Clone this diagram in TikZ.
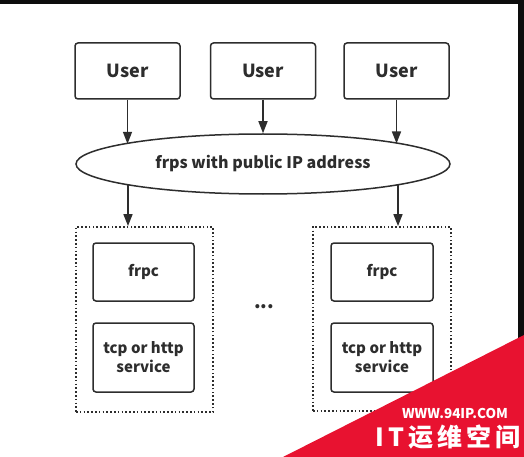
\documentclass[tikz,border=0pt]{standalone}
\usepackage{fontspec}
\setmainfont{Noto Sans CJK SC}
\newfontfamily\cjk{Noto Sans CJK SC}
\usetikzlibrary{shapes.geometric,arrows.meta,calc}
\definecolor{ink}{RGB}{45,45,45}
\definecolor{wmred}{RGB}{232,18,48}
\begin{document}
\begin{tikzpicture}[x=1pt,y=-1pt,
  box/.style={draw=ink, line width=1.5pt, rounded corners=3pt, inner sep=0pt, text=ink, align=center,
    font=\bfseries\fontsize{15}{19}\selectfont},
  userbox/.style={box, minimum width=105pt, minimum height=56pt, font=\bfseries\fontsize{18}{20}\selectfont},
  group/.style={draw=ink, line width=1.8pt, dash pattern=on 1.6pt off 2.2pt, inner sep=0pt},
  arr/.style={draw=ink, line width=1.5pt, -{Triangle[length=12pt,width=9pt]}}]
\useasboundingbox (0,0) rectangle (524,457);
\fill[white] (0,0) rectangle (524,457);
\fill[black!95] (0,0) rectangle (524,4);
\fill[black!95] (518,0) rectangle (524,457);
% users
\node[userbox] (u1) at (127.5,71) {User};
\node[userbox] (u2) at (263,71) {User};
\node[userbox] (u3) at (396.5,71) {User};
% server
\node[ellipse, draw=ink, line width=1.5pt, minimum width=374pt, minimum height=60pt, inner sep=0pt, text=ink,
  font=\bfseries\fontsize{16}{20}\selectfont] (e) at (263,164) {frps with public IP address};
% groups
\node[group, minimum width=137pt, minimum height=185pt] (g1) at (144.5,319.5) {};
\node[group, minimum width=138pt, minimum height=184pt] (g2) at (382,319) {};
\node[box, minimum width=101pt, minimum height=58pt] (c1) at (143.5,272) {frpc};
\node[box, minimum width=101pt, minimum height=69pt] (s1) at (143.5,357.5) {tcp or http\\service};
\node[box, minimum width=102pt, minimum height=58pt] (c2) at (382,272) {frpc};
\node[box, minimum width=102pt, minimum height=69pt] (s2) at (382,357.5) {tcp or http\\service};
\node[text=ink, font=\bfseries\fontsize{19}{20}\selectfont] (dots) at (264,307) {...};
% connectors
\draw[arr] (u1.south) -- ($(e.center)+(-135.5,-20.2)$);
\draw[arr] (u2.south) -- (e.north);
\draw[arr] (u3.south) -- ($(e.center)+(133.5,-20.5)$);
\draw[arr] ($(e.center)+(-135,20.8)$) coordinate (l1) -- (l1 |- g1.north);
\draw[arr] ($(e.center)+(135,20.8)$) coordinate (l2) -- (l2 |- g2.north);
% watermark
\fill[wmred] (283,457) -- (524,335) -- (524,457) -- cycle;
\node[text=white, font=\cjk\bfseries\fontsize{13.5}{15}\selectfont] (wm1) at (455,413) {WWW.94IP.COM};
\node[text=white, font=\cjk\bfseries\fontsize{25}{28}\selectfont] (wm2) at (448,437) {I\,T\,运\,维\,空\,间};
\end{tikzpicture}
\end{document}
